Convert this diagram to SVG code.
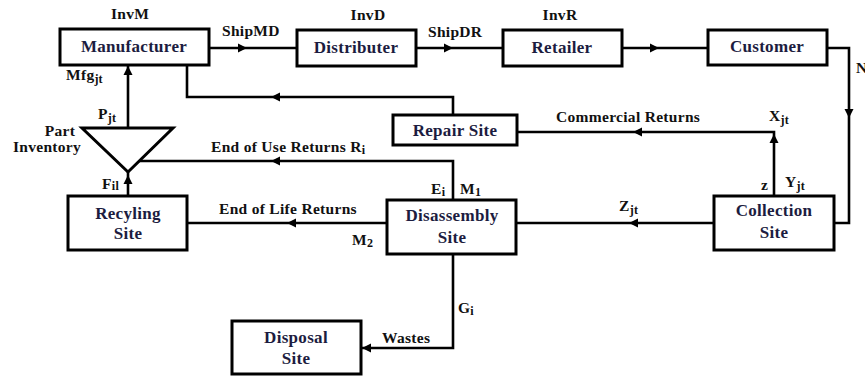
<svg xmlns="http://www.w3.org/2000/svg" width="865" height="377" viewBox="0 0 865 377">
<style>
.box{fill:#fff;stroke:#000;stroke-width:3}
.ln{fill:none;stroke:#000;stroke-width:2.6}
.nt{font-family:"Liberation Serif","Times New Roman",serif;font-weight:bold;font-size:17px;fill:#1c1c40;text-anchor:middle;letter-spacing:0.3px}
.lb{font-family:"Liberation Serif","Times New Roman",serif;font-weight:bold;font-size:15.5px;fill:#111;letter-spacing:0.3px}
.sub{font-size:12px}
</style>
<defs>
<polygon id="ah" points="0,0 -9,-4.5 -9,4.5" fill="#000"/>
</defs>
<rect width="865" height="377" fill="#fff"/>
<g id="connectors">
<path class="ln" d="M209 48 H297"/>
<path class="ln" d="M416 48 H503"/>
<path class="ln" d="M622 48 H708"/>
<path class="ln" d="M827 48 H849 V223 H834"/>
<path class="ln" d="M714 223 H516"/>
<path class="ln" d="M774 196 V132 H517"/>
<path class="ln" d="M453 115 V97 H187 V65"/>
<path class="ln" d="M128 128 V65"/>
<path class="ln" d="M139 161 H453 V200"/>
<path class="ln" d="M128 196 V172"/>
<path class="ln" d="M387 223 H187"/>
<path class="ln" d="M453 254 V348 H361"/>
<use href="#ah" transform="translate(247,48)"/>
<use href="#ah" transform="translate(453,48)"/>
<use href="#ah" transform="translate(659,48)"/>
<use href="#ah" transform="translate(849,118) rotate(90)"/>
<use href="#ah" transform="translate(774,134) rotate(-90)"/>
<use href="#ah" transform="translate(633,132) rotate(180)"/>
<use href="#ah" transform="translate(271,97) rotate(180)"/>
<use href="#ah" transform="translate(128,66) rotate(-90)"/>
<use href="#ah" transform="translate(271,161) rotate(180)"/>
<use href="#ah" transform="translate(128,175) rotate(-90)"/>
<use href="#ah" transform="translate(287,223) rotate(180)"/>
<use href="#ah" transform="translate(629,223) rotate(180)"/>
<use href="#ah" transform="translate(362,348) rotate(180)"/>
</g>
<g id="manufacturer"><rect class="box" x="60" y="29" width="149" height="36"/><text class="nt" x="134" y="52">Manufacturer</text></g>
<g id="distributer"><rect class="box" x="297" y="30" width="119" height="36"/><text class="nt" x="356" y="53">Distributer</text></g>
<g id="retailer"><rect class="box" x="503" y="30" width="119" height="36"/><text class="nt" x="562" y="53">Retailer</text></g>
<g id="customer"><rect class="box" x="708" y="30" width="119" height="35"/><text class="nt" x="767" y="52">Customer</text></g>
<g id="repair"><rect class="box" x="393" y="115" width="124" height="30"/><text class="nt" x="455" y="136">Repair Site</text></g>
<g id="collection"><rect class="box" x="714" y="196" width="120" height="54"/><text class="nt" x="774" y="216">Collection</text><text class="nt" x="774" y="238">Site</text></g>
<g id="disassembly"><rect class="box" x="387" y="200" width="129" height="54"/><text class="nt" x="452" y="221">Disassembly</text><text class="nt" x="452" y="243">Site</text></g>
<g id="recycling"><rect class="box" x="68" y="196" width="119" height="54"/><text class="nt" x="128" y="219">Recyling</text><text class="nt" x="128" y="239">Site</text></g>
<g id="disposal"><rect class="box" x="232" y="321" width="129" height="53"/><text class="nt" x="296" y="343">Disposal</text><text class="nt" x="296" y="364">Site</text></g>
<g id="part-inventory"><polygon points="82,128 173,128 128,172" fill="#fff" stroke="#000" stroke-width="3" stroke-linejoin="miter"/><text class="lb" x="60" y="136" text-anchor="middle">Part</text><text class="lb" x="47" y="152" text-anchor="middle">Inventory</text></g>
<g id="labels">
<text class="lb" x="130" y="19" text-anchor="middle">InvM</text>
<text class="lb" x="368" y="20" text-anchor="middle">InvD</text>
<text class="lb" x="560" y="20" text-anchor="middle">InvR</text>
<text class="lb" x="222" y="36">ShipMD</text>
<text class="lb" x="428" y="37">ShipDR</text>
<text class="lb" x="856" y="73">N</text>
<text class="lb" x="66" y="80" letter-spacing="2.5">Mfg<tspan class="sub" dy="3" letter-spacing="0">jt</tspan></text>
<text class="lb" x="98" y="119">P<tspan class="sub" dy="3">jt</tspan></text>
<text class="lb" x="102" y="189">F<tspan class="sub" dy="1">il</tspan></text>
<text class="lb" x="211" y="152">End of Use Returns R<tspan class="sub" dy="2">i</tspan></text>
<text class="lb" x="219" y="214">End of Life Returns</text>
<text class="lb" x="431" y="194">E<tspan class="sub" dy="2">i</tspan></text>
<text class="lb" x="460" y="194">M<tspan class="sub" dy="2">1</tspan></text>
<text class="lb" x="352" y="245">M<tspan class="sub" dy="2">2</tspan></text>
<text class="lb" x="556" y="122">Commercial Returns</text>
<text class="lb" x="769" y="121">X<tspan class="sub" dy="3">jt</tspan></text>
<text class="lb" x="761" y="190">z</text>
<text class="lb" x="785" y="187">Y<tspan class="sub" dy="3">jt</tspan></text>
<text class="lb" x="619" y="211">Z<tspan class="sub" dy="3">jt</tspan></text>
<text class="lb" x="458" y="313">G<tspan class="sub" dy="2">i</tspan></text>
<text class="lb" x="382" y="343">Wastes</text>
</g>
</svg>
